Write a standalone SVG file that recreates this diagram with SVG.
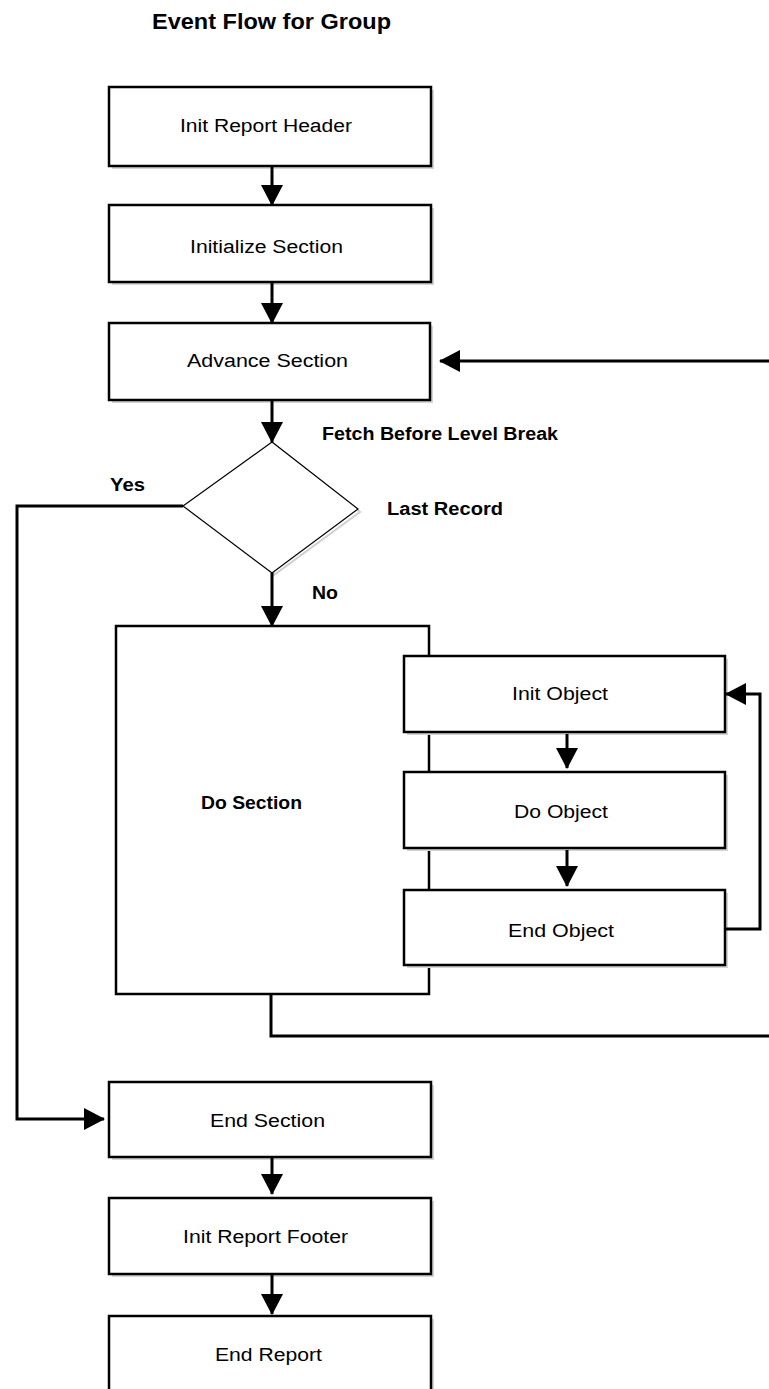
<svg xmlns="http://www.w3.org/2000/svg" width="769" height="1389" viewBox="0 0 769 1389">
<defs>
<style>
.box{fill:#fff;stroke:#000;stroke-width:2.5}
.shd{fill:#d4d4d4;stroke:none}
.lbl{font-family:"Liberation Sans",Arial,sans-serif;font-size:18px;fill:#000}
.bld{font-family:"Liberation Sans",Arial,sans-serif;font-size:18px;font-weight:bold;fill:#000}
.con{fill:none;stroke:#000;stroke-width:3}
</style>
<marker id="ah" markerUnits="userSpaceOnUse" markerWidth="22" markerHeight="22" refX="20" refY="11" orient="auto">
<path d="M0,0 L21,11 L0,22 z" fill="#000"/>
</marker>
</defs>
<rect width="769" height="1389" fill="#fff"/>
<text class="bld" x="152" y="29" font-size="22" style="font-size:22px" textLength="239" lengthAdjust="spacingAndGlyphs">Event Flow for Group</text>

<g id="init-report-header">
<rect class="shd" x="112" y="90" width="322" height="79"/>
<rect class="box" x="109" y="87" width="322" height="79"/>
<text class="lbl" x="180" y="132" textLength="172" lengthAdjust="spacingAndGlyphs">Init Report Header</text>
</g>
<g id="initialize-section">
<rect class="shd" x="112" y="208" width="322" height="77"/>
<rect class="box" x="109" y="205" width="322" height="77"/>
<text class="lbl" x="190" y="253" textLength="153" lengthAdjust="spacingAndGlyphs">Initialize Section</text>
</g>
<g id="advance-section">
<rect class="shd" x="112" y="326" width="321" height="77"/>
<rect class="box" x="109" y="323" width="321" height="77"/>
<text class="lbl" x="187" y="367" textLength="161" lengthAdjust="spacingAndGlyphs">Advance Section</text>
</g>
<g id="last-record">
<polygon points="274,444 360,512 274,575" fill="none" stroke="#cfcfcf" stroke-width="2"/>
<polygon points="272,442 358,509 272,573 183,506" fill="#fff" stroke="#000" stroke-width="1.2"/>
<text class="bld" x="322" y="440" textLength="236" lengthAdjust="spacingAndGlyphs">Fetch Before Level Break</text>
<text class="bld" x="387" y="515" textLength="116" lengthAdjust="spacingAndGlyphs">Last Record</text>
</g>
<g id="do-section">
<rect class="box" x="116" y="626" width="313" height="368" stroke-width="3"/>
<text class="bld" x="201" y="809" textLength="101" lengthAdjust="spacingAndGlyphs">Do Section</text>
</g>
<g id="init-object">
<rect class="shd" x="407" y="659" width="321" height="76"/>
<rect class="box" x="404" y="656" width="321" height="76"/>
<text class="lbl" x="512" y="700" textLength="96" lengthAdjust="spacingAndGlyphs">Init Object</text>
</g>
<g id="do-object">
<rect class="shd" x="407" y="775" width="321" height="76"/>
<rect class="box" x="404" y="772" width="321" height="76"/>
<text class="lbl" x="514" y="818" textLength="94" lengthAdjust="spacingAndGlyphs">Do Object</text>
</g>
<g id="end-object">
<rect class="shd" x="407" y="893" width="321" height="75"/>
<rect class="box" x="404" y="890" width="321" height="75"/>
<text class="lbl" x="508" y="937" textLength="106" lengthAdjust="spacingAndGlyphs">End Object</text>
</g>
<g id="end-section">
<rect class="shd" x="112" y="1085" width="322" height="75"/>
<rect class="box" x="109" y="1082" width="322" height="75"/>
<text class="lbl" x="210" y="1127" textLength="115" lengthAdjust="spacingAndGlyphs">End Section</text>
</g>
<g id="init-report-footer">
<rect class="shd" x="112" y="1201" width="322" height="76"/>
<rect class="box" x="109" y="1198" width="322" height="76"/>
<text class="lbl" x="183" y="1243" textLength="165" lengthAdjust="spacingAndGlyphs">Init Report Footer</text>
</g>
<g id="end-report">
<rect class="shd" x="112" y="1319" width="322" height="80"/>
<rect class="box" x="109" y="1316" width="322" height="80"/>
<text class="lbl" x="215" y="1361" textLength="107" lengthAdjust="spacingAndGlyphs">End Report</text>
</g>

<g id="connectors">
<path class="con" d="M272,167 V205" marker-end="url(#ah)"/>
<path class="con" d="M272,283 V323" marker-end="url(#ah)"/>
<path class="con" d="M272,401 V442" marker-end="url(#ah)"/>
<path class="con" d="M272,573 V626" marker-end="url(#ah)"/>
<path class="con" d="M183,506 H17 V1119 H104" marker-end="url(#ah)"/>
<path class="con" d="M271,995 V1036 H769"/>
<path class="con" d="M769,361 H440" marker-end="url(#ah)"/>
<path class="con" d="M567,734 V768" marker-end="url(#ah)"/>
<path class="con" d="M567,850 V886" marker-end="url(#ah)"/>
<path class="con" d="M726,929 H760 V694 H726" marker-end="url(#ah)"/>
<path class="con" d="M272,1158 V1194" marker-end="url(#ah)"/>
<path class="con" d="M272,1275 V1314" marker-end="url(#ah)"/>
<text class="bld" x="110" y="491" textLength="35" lengthAdjust="spacingAndGlyphs">Yes</text>
<text class="bld" x="312" y="599" textLength="26" lengthAdjust="spacingAndGlyphs">No</text>
</g>
</svg>
